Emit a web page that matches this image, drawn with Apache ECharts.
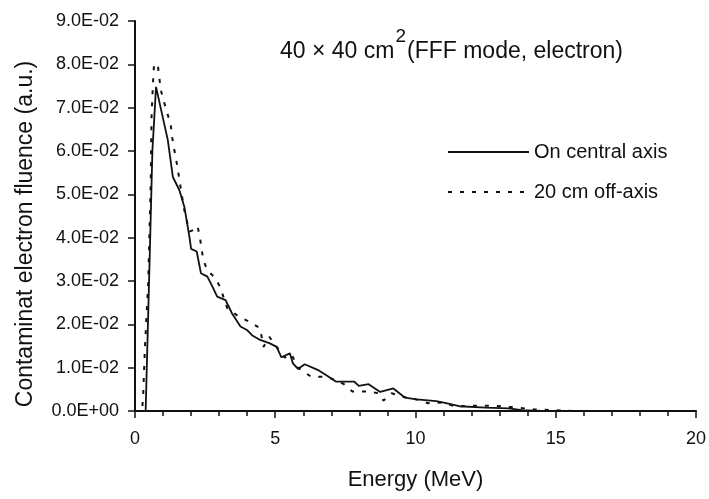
<!DOCTYPE html>
<html>
<head>
<meta charset="utf-8">
<script src="https://cdn.jsdelivr.net/npm/echarts@6/dist/echarts.min.js"></script>
<style>
html,body{margin:0;padding:0;background:#fff;}
#chart{width:709px;height:499px;}
</style>
</head>
<body>
<div id="chart"></div>
<script>
// Energy (MeV) and fluence values
const centralEnergy = [0, 0.38, 0.53, 0.62, 0.75, 1.17, 1.35, 1.58, 1.76, 1.94, 2.0, 2.2, 2.35, 2.58, 2.76, 2.93, 3.23, 3.46, 3.76, 3.99, 4.17, 4.46, 4.81, 5.05, 5.22, 5.52, 5.63, 5.81, 6.05, 6.51, 6.81, 7.16, 7.81, 7.98, 8.33, 8.74, 9.21, 9.62, 10.04, 10.74, 11.09, 11.56, 12.5, 13.32, 13.79, 14.5, 15.9];
const centralFluence = [0, 0, 0.037, 0.060, 0.0748, 0.0625, 0.054, 0.051, 0.0471, 0.0402, 0.0374, 0.0368, 0.0318, 0.031, 0.0287, 0.0264, 0.0256, 0.0225, 0.0195, 0.0187, 0.0175, 0.0164, 0.0156, 0.0148, 0.0124, 0.0133, 0.011, 0.0097, 0.0108, 0.0095, 0.0083, 0.0068, 0.0068, 0.0058, 0.0062, 0.0044, 0.0052, 0.0031, 0.0027, 0.0023, 0.0018, 0.0011, 0.0008, 0.0006, 0.0002, 0, 0];

const offAxisEnergy = [0, 0.25, 0.29, 0.35, 0.41, 0.47, 0.53, 0.56, 0.59, 0.64, 0.68, 0.82, 0.92, 1.03, 1.15, 1.27, 1.31, 1.38, 1.47, 1.52, 1.64, 1.76, 1.94, 2.09, 2.23, 2.32, 2.37, 2.44, 2.58, 2.88, 3.05, 3.17, 3.29, 3.70, 4.01, 4.46, 4.58, 4.79, 5.05, 5.34, 5.58, 5.81, 6.28, 6.81, 7.16, 7.45, 7.75, 8.22, 8.69, 8.86, 9.15, 9.56, 10.15, 10.44, 10.97, 11.44, 11.91, 12.85, 13.4, 14.2, 14.6, 15.67, 18.0];
const offAxisFluence = [0, 0, 0.0033, 0.014, 0.0218, 0.0295, 0.0448, 0.0525, 0.068, 0.0756, 0.0802, 0.0794, 0.0741, 0.0714, 0.0687, 0.0664, 0.0637, 0.061, 0.0579, 0.056, 0.051, 0.0463, 0.0414, 0.0418, 0.0427, 0.0398, 0.0375, 0.0348, 0.0324, 0.0306, 0.0283, 0.026, 0.0237, 0.0218, 0.0208, 0.0191, 0.0148, 0.0171, 0.0148, 0.0123, 0.0131, 0.0100, 0.0079, 0.0079, 0.0071, 0.0062, 0.0045, 0.0045, 0.0041, 0.0024, 0.0041, 0.0033, 0.0025, 0.0018, 0.002, 0.001, 0.0012, 0.0012, 0.0009, 0.0004, 0.0003, 0, 0];

const yTickLabels = ['0.0E+00', '1.0E-02', '2.0E-02', '3.0E-02', '4.0E-02', '5.0E-02', '6.0E-02', '7.0E-02', '8.0E-02', '9.0E-02'];
const seriesNames = ['On central axis', '20 cm off-axis'];

const FONT = '"Liberation Sans", Arial, sans-serif';
const zip = (a, b) => a.map((v, i) => [v, b[i]]);

const chart = echarts.init(document.getElementById('chart'), null, {renderer: 'canvas'});
chart.setOption({
  backgroundColor: '#fff',
  animation: false,
  textStyle: {fontFamily: FONT, color: '#111'},
  title: {
    left: 280, top: 27, padding: 0,
    text: '{a|40 × 40 cm}{s|2}{a|(FFF mode, electron)}',
    textStyle: {
      fontWeight: 'normal',
      rich: {
        a: {fontSize: 23, fontFamily: FONT, fontWeight: 'normal', color: '#111', verticalAlign: 'bottom'},
        s: {fontSize: 19, fontFamily: FONT, fontWeight: 'normal', color: '#111', verticalAlign: 'bottom', padding: [0, 1, 17, 1]}
      }
    }
  },
  legend: {
    orient: 'vertical', left: 447, top: 142, padding: 0,
    itemWidth: 81, itemHeight: 14, itemGap: 20,
    itemStyle: {opacity: 0},
    textStyle: {fontSize: 20, fontFamily: FONT, color: '#111'},
    data: seriesNames
  },
  grid: {left: 135, right: 6, top: 21, bottom: 88, containLabel: false},
  xAxis: {
    type: 'value', min: 0, max: 20, interval: 5,
    name: 'Energy (MeV)', nameLocation: 'middle', nameGap: 58,
    nameTextStyle: {fontSize: 22, fontFamily: FONT, color: '#111'},
    axisLine: {lineStyle: {color: '#111', width: 2}},
    axisTick: {show: true, length: 7, lineStyle: {color: '#111', width: 1.5}},
    minorTick: {show: true, splitNumber: 5, length: 5, lineStyle: {color: '#111', width: 1.5}},
    axisLabel: {fontSize: 18, color: '#111', margin: 19, fontFamily: FONT},
    splitLine: {show: false}, minorSplitLine: {show: false}
  },
  yAxis: {
    type: 'value', min: 0, max: 0.09, interval: 0.01,
    name: 'Contaminat electron fluence (a.u.)', nameLocation: 'middle', nameGap: 98,
    nameTextStyle: {fontSize: 23, fontFamily: FONT, color: '#111', padding: [0, 36, 0, 0]},
    axisLine: {show: true, lineStyle: {color: '#111', width: 2}},
    axisTick: {show: true, length: 7, lineStyle: {color: '#111', width: 1.5}},
    axisLabel: {fontSize: 18, color: '#111', margin: 16, fontFamily: FONT,
      formatter: v => yTickLabels[Math.round(v / 0.01)]},
    splitLine: {show: false}
  },
  series: [
    {
      name: seriesNames[0], type: 'line', symbol: 'none', showSymbol: false,
      data: zip(centralEnergy, centralFluence),
      lineStyle: {color: '#111', width: 1.8, type: 'solid'},
      itemStyle: {color: '#111'}
    },
    {
      name: seriesNames[1], type: 'line', symbol: 'none', showSymbol: false,
      data: zip(offAxisEnergy, offAxisFluence),
      lineStyle: {color: '#111', width: 2, type: [4, 8]},
      itemStyle: {color: '#111'}
    }
  ]
});
</script>
</body>
</html>
